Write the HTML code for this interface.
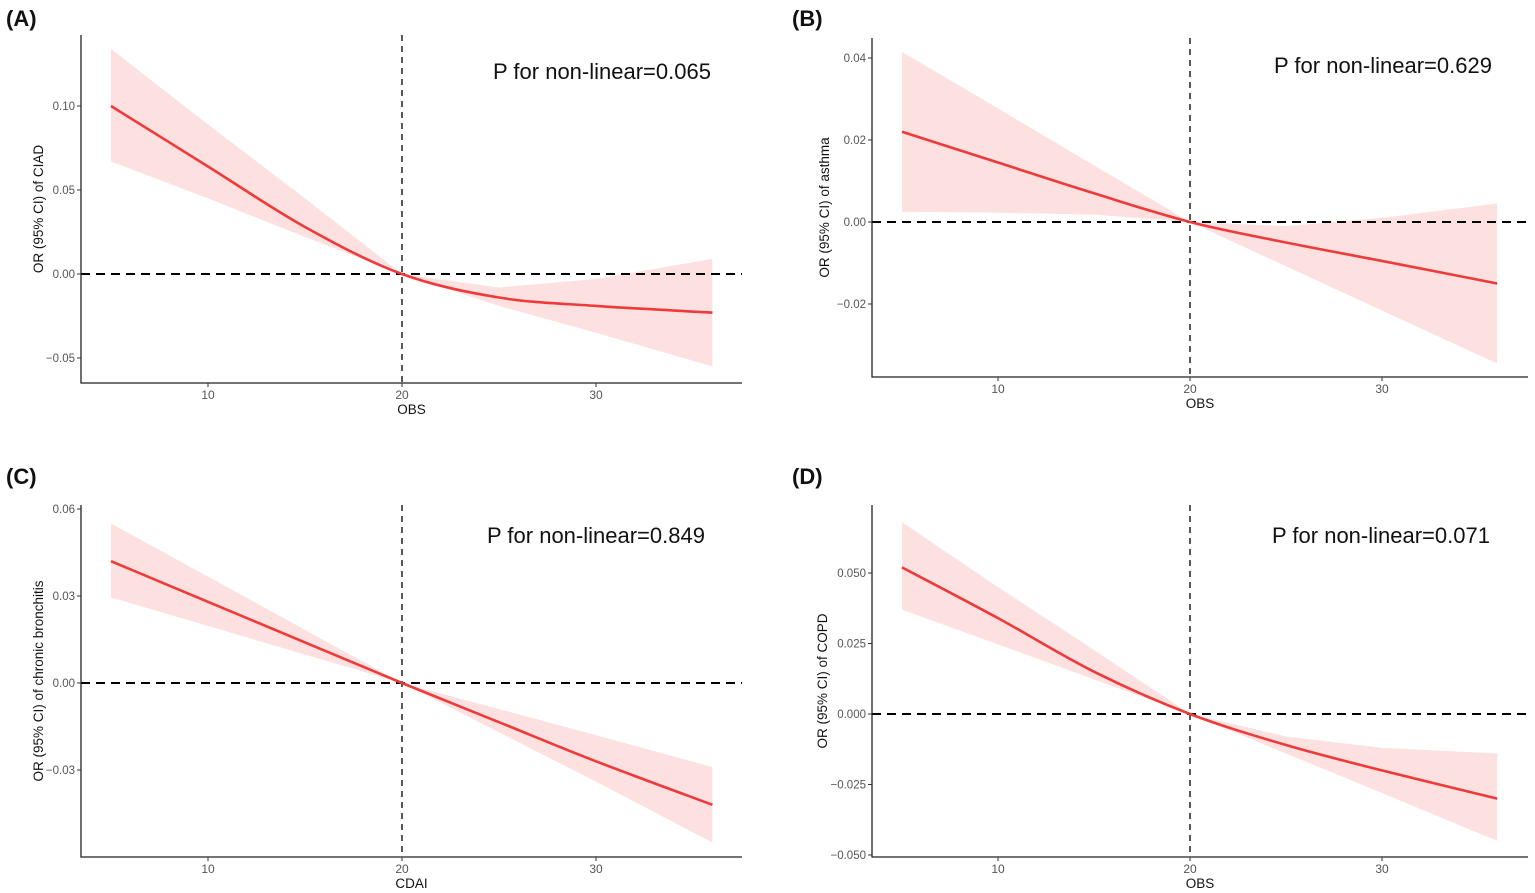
<!DOCTYPE html>
<html><head><meta charset="utf-8"><style>
body{margin:0;background:#fff;}
svg{display:block;font-family:"Liberation Sans",Arial,sans-serif;}
</style></head><body>
<svg id="fig" width="1535" height="893" viewBox="0 0 1535 893"></svg>
<script>
const xs = [5,10,15,20,25,30,36];
const fitA = [0.100,0.064,0.028,0,-0.014,-0.019,-0.023];
const upA  = [0.134,0.089,0.045,0,-0.008,-0.003,0.009];
const loA  = [0.067,0.045,0.022,0,-0.019,-0.035,-0.055];
const fitB = [0.022,0.0145,0.007,0,-0.005,-0.0095,-0.015];
const upB  = [0.0415,0.0277,0.0138,0,-0.001,0.001,0.0045];
const loB  = [0.0025,0.0023,0.0018,0,-0.0108,-0.0216,-0.0345];
const fitC = [0.042,0.028,0.014,0,-0.0135,-0.027,-0.042];
const upC  = [0.055,0.0367,0.0183,0,-0.009,-0.018,-0.029];
const loC  = [0.0295,0.0197,0.0098,0,-0.017,-0.034,-0.055];
const fitD = [0.052,0.034,0.015,0,-0.011,-0.020,-0.030];
const upD  = [0.068,0.045,0.0227,0,-0.008,-0.012,-0.014];
const loD  = [0.037,0.0247,0.0123,0,-0.014,-0.028,-0.045];
const xTicks = [10,20,30];
const yTicksA = [0.10,0.05,0.00,-0.05];
const yTicksB = [0.04,0.02,0.00,-0.02];
const yTicksC = [0.06,0.03,0.00,-0.03];
const yTicksD = [0.050,0.025,0.000,-0.025,-0.050];
const labelsA = ["0.10","0.05","0.00","-0.05"];
const labelsB = ["0.04","0.02","0.00","-0.02"];
const labelsC = ["0.06","0.03","0.00","-0.03"];
const labelsD = ["0.050","0.025","0.000","-0.025","-0.050"];

const NS="http://www.w3.org/2000/svg";
const svg=document.getElementById('fig');
function mk(tag,attrs,parent){const e=document.createElementNS(NS,tag);for(const k in attrs)e.setAttribute(k,attrs[k]);(parent||svg).appendChild(e);return e;}
function smooth(pts){let d='M'+pts[0][0]+','+pts[0][1];for(let i=0;i<pts.length-1;i++){const p0=pts[Math.max(i-1,0)],p1=pts[i],p2=pts[i+1],p3=pts[Math.min(i+2,pts.length-1)];const c1=[p1[0]+(p2[0]-p0[0])/6,p1[1]+(p2[1]-p0[1])/6],c2=[p2[0]-(p3[0]-p1[0])/6,p2[1]-(p3[1]-p1[1])/6];d+=' C'+c1+' '+c2+' '+p2;}return d;}

function panel(cfg){
  const g=mk('g',{});
  
  
  const X=v=>cfg.x10+(v-10)*cfg.xs, Y=v=>cfg.y0-v*cfg.ys;
  const lab=mk('text',{x:cfg.lx,y:cfg.ly,'font-size':22,'font-weight':'bold',fill:'#111'},g);lab.textContent='('+cfg.key.toUpperCase()+')';
  
  const up=xs.map((x,i)=>[X(x),Y(cfg.up[i])]), lo=xs.map((x,i)=>[X(x),Y(cfg.lo[i])]).reverse();
  const band=mk('path',{d:'M'+up.concat(lo).map(p=>p.join(',')).join(' L')+' Z',fill:'#fde0e0'},g);
  
  const hl=mk('line',{x1:cfg.left,x2:cfg.right,y1:Y(0),y2:Y(0),stroke:'#000','stroke-width':2,'stroke-dasharray':'9,6'},g);
  
  const vl=mk('line',{x1:X(20),x2:X(20),y1:cfg.top,y2:cfg.bottom,stroke:'#000','stroke-width':1.3,'stroke-dasharray':'6,5'},g);
  
  const fit=mk('path',{d:smooth(xs.map((x,i)=>[X(x),Y(cfg.fit[i])])),fill:'none',stroke:'#ee3a3a','stroke-width':2.6},g);
  
  const ax=mk('path',{d:`M${cfg.left},${cfg.top} V${cfg.bottom} H${cfg.right}`,fill:'none',stroke:'#222','stroke-width':1.3},g);
  
  xTicks.forEach(t=>{mk('line',{x1:X(t),x2:X(t),y1:cfg.bottom,y2:cfg.bottom+4,stroke:'#333'},g);
    const tt=mk('text',{x:X(t),y:cfg.bottom+16,'font-size':12,fill:'#555','text-anchor':'middle'},g);tt.textContent=t;
    });
  cfg.yt.forEach((t,i)=>{mk('line',{x1:cfg.left-4,x2:cfg.left,y1:Y(t),y2:Y(t),stroke:'#333'},g);
    const tt=mk('text',{x:cfg.left-6,y:Y(t)+4,'font-size':11.5,fill:'#555','text-anchor':'end'},g);tt.textContent=cfg.yl[i].replace('-','\u2212');
    });
  const xt=mk('text',{x:(cfg.left+cfg.right)/2,y:cfg.bottom+31,'font-size':13.5,fill:'#111','text-anchor':'middle'},g);xt.textContent=cfg.xtitle;
  
  const ycx=cfg.left-cfg.yto, ycy=(cfg.top+cfg.bottom)/2;
  const yt=mk('text',{x:ycx,y:ycy,'font-size':13.5,fill:'#111','text-anchor':'middle',transform:`rotate(-90 ${ycx} ${ycy})`},g);yt.textContent=cfg.ytitle;
  
  const pt=mk('text',{x:cfg.px,y:cfg.py,'font-size':22,fill:'#111','text-anchor':'middle'},g);pt.textContent=cfg.p;
  
}
panel({key:'a',yto:38,lx:6,ly:26,x10:208,xs:19.4,y0:274,ys:1680,left:81,right:742,top:35,bottom:383,fit:fitA,up:upA,lo:loA,yt:yTicksA,yl:labelsA,xtitle:'OBS',ytitle:'OR (95% CI) of CIAD',p:'P for non-linear=0.065',px:602,py:79});
panel({key:'b',yto:43,lx:792,ly:26,x10:998,xs:19.2,y0:222,ys:4100,left:872,right:1528,top:38,bottom:377,fit:fitB,up:upB,lo:loB,yt:yTicksB,yl:labelsB,xtitle:'OBS',ytitle:'OR (95% CI) of asthma',p:'P for non-linear=0.629',px:1383,py:73});
panel({key:'c',yto:38,lx:6,ly:484,x10:208,xs:19.4,y0:683,ys:2900,left:81,right:742,top:505,bottom:857,fit:fitC,up:upC,lo:loC,yt:yTicksC,yl:labelsC,xtitle:'CDAI',ytitle:'OR (95% CI) of chronic bronchitis',p:'P for non-linear=0.849',px:596,py:543});
panel({key:'d',yto:45,lx:792,ly:484,x10:998,xs:19.2,y0:714,ys:2820,left:872,right:1528,top:505,bottom:857,fit:fitD,up:upD,lo:loD,yt:yTicksD,yl:labelsD,xtitle:'OBS',ytitle:'OR (95% CI) of COPD',p:'P for non-linear=0.071',px:1381,py:543});
</script>
</body></html>
